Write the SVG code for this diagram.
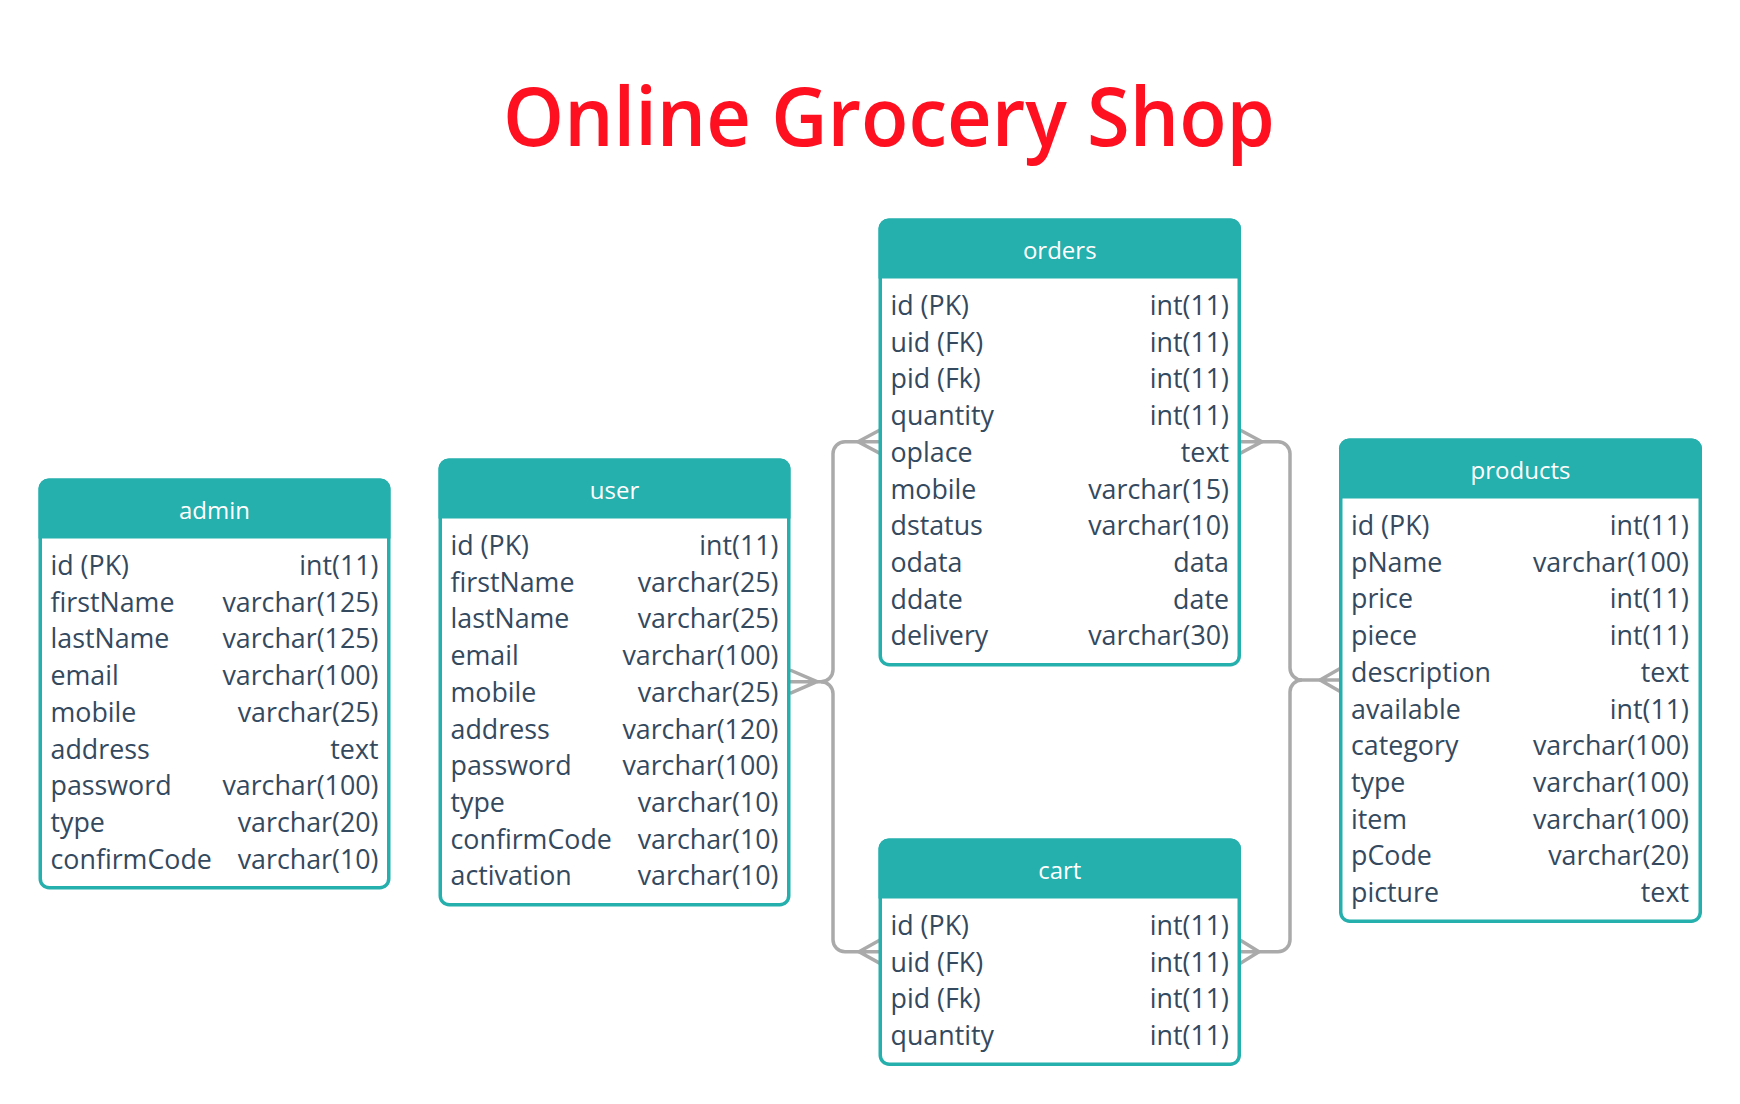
<svg xmlns="http://www.w3.org/2000/svg" width="1740" height="1104" viewBox="0 0 1740 1104">
<style>
.title{font-family:"Open Sans","Liberation Sans",sans-serif;font-size:82px;font-weight:600;fill:#ff1020}
.box{fill:#ffffff;stroke:#25afad;stroke-width:3.5}
.hdr{fill:#25afad}
.hd{font-family:"Open Sans","Liberation Sans",sans-serif;font-size:24px;fill:#ffffff;text-anchor:middle}
.f{font-family:"Open Sans","Liberation Sans",sans-serif;font-size:26.8px;fill:#34495e}
.t{font-family:"Open Sans","Liberation Sans",sans-serif;font-size:26.8px;fill:#34495e;text-anchor:end}
.c{fill:none;stroke:#aaaaaa;stroke-width:3.5;stroke-linejoin:round}
</style>
<rect x="0" y="0" width="1740" height="1104" fill="#ffffff"/>
<text class="title" x="503" y="146" textLength="772" lengthAdjust="spacingAndGlyphs">Online Grocery Shop</text>

<g id="connectors">
<path class="c" d="M817 681.7 H821 A12 12 0 0 0 833 669.7 V453.7 A12 12 0 0 1 845 441.7 H858"/>
<path class="c" d="M821 681.7 A12 12 0 0 1 833 693.7 V939.7 A12 12 0 0 0 845 951.7 H859"/>
<path class="c" d="M790 670 L817 681.7 L790 693.4 M790 681.7 H817"/>
<path class="c" d="M880 430 L858 441.7 L880 453.4 M880 441.7 H858"/>
<path class="c" d="M880 940 L859 951.7 L880 963.4 M880 951.7 H859"/>
<path class="c" d="M1262 441.7 H1278 A12 12 0 0 1 1290 453.7 V668 A12 12 0 0 0 1302 680 H1320"/>
<path class="c" d="M1302 680 A12 12 0 0 0 1290 692 V939.7 A12 12 0 0 1 1278 951.7 H1259"/>
<path class="c" d="M1240 430 L1262 441.7 L1240 453.4 M1240 441.7 H1262"/>
<path class="c" d="M1341 668 L1320 680 L1341 692 M1341 680 H1320"/>
<path class="c" d="M1240 940 L1259 951.7 L1240 963.4 M1240 951.7 H1259"/>
</g>

<g id="admin" transform="translate(38.5,478.5)">
<rect class="box" x="1.75" y="1.75" width="348.5" height="407.5" rx="9"/>
<path class="hdr" d="M0 60 V10 A10 10 0 0 1 10 0 H342 A10 10 0 0 1 352 10 V60 Z"/>
<text class="hd" x="176" y="40.5">admin</text>
<text class="f" x="12" y="96.5">id (PK)</text><text class="t" x="340" y="96.5">int(11)</text>
<text class="f" x="12" y="133.2">firstName</text><text class="t" x="340" y="133.2">varchar(125)</text>
<text class="f" x="12" y="169.9">lastName</text><text class="t" x="340" y="169.9">varchar(125)</text>
<text class="f" x="12" y="206.6">email</text><text class="t" x="340" y="206.6">varchar(100)</text>
<text class="f" x="12" y="243.3">mobile</text><text class="t" x="340" y="243.3">varchar(25)</text>
<text class="f" x="12" y="280">address</text><text class="t" x="340" y="280">text</text>
<text class="f" x="12" y="316.7">password</text><text class="t" x="340" y="316.7">varchar(100)</text>
<text class="f" x="12" y="353.4">type</text><text class="t" x="340" y="353.4">varchar(20)</text>
<text class="f" x="12" y="390.1">confirmCode</text><text class="t" x="340" y="390.1">varchar(10)</text>
</g>

<g id="user" transform="translate(438.5,458.5)">
<rect class="box" x="1.75" y="1.75" width="348.5" height="444.5" rx="9"/>
<path class="hdr" d="M0 60 V10 A10 10 0 0 1 10 0 H342 A10 10 0 0 1 352 10 V60 Z"/>
<text class="hd" x="176" y="40.5">user</text>
<text class="f" x="12" y="96.5">id (PK)</text><text class="t" x="340" y="96.5">int(11)</text>
<text class="f" x="12" y="133.2">firstName</text><text class="t" x="340" y="133.2">varchar(25)</text>
<text class="f" x="12" y="169.9">lastName</text><text class="t" x="340" y="169.9">varchar(25)</text>
<text class="f" x="12" y="206.6">email</text><text class="t" x="340" y="206.6">varchar(100)</text>
<text class="f" x="12" y="243.3">mobile</text><text class="t" x="340" y="243.3">varchar(25)</text>
<text class="f" x="12" y="280">address</text><text class="t" x="340" y="280">varchar(120)</text>
<text class="f" x="12" y="316.7">password</text><text class="t" x="340" y="316.7">varchar(100)</text>
<text class="f" x="12" y="353.4">type</text><text class="t" x="340" y="353.4">varchar(10)</text>
<text class="f" x="12" y="390.1">confirmCode</text><text class="t" x="340" y="390.1">varchar(10)</text>
<text class="f" x="12" y="426.8">activation</text><text class="t" x="340" y="426.8">varchar(10)</text>
</g>

<g id="orders" transform="translate(878.5,218.5)">
<rect class="box" x="1.75" y="1.75" width="359" height="444.5" rx="9"/>
<path class="hdr" d="M0 60 V10 A10 10 0 0 1 10 0 H352.5 A10 10 0 0 1 362.5 10 V60 Z"/>
<text class="hd" x="181.25" y="40.5">orders</text>
<text class="f" x="12" y="96.5">id (PK)</text><text class="t" x="350.5" y="96.5">int(11)</text>
<text class="f" x="12" y="133.2">uid (FK)</text><text class="t" x="350.5" y="133.2">int(11)</text>
<text class="f" x="12" y="169.9">pid (Fk)</text><text class="t" x="350.5" y="169.9">int(11)</text>
<text class="f" x="12" y="206.6">quantity</text><text class="t" x="350.5" y="206.6">int(11)</text>
<text class="f" x="12" y="243.3">oplace</text><text class="t" x="350.5" y="243.3">text</text>
<text class="f" x="12" y="280">mobile</text><text class="t" x="350.5" y="280">varchar(15)</text>
<text class="f" x="12" y="316.7">dstatus</text><text class="t" x="350.5" y="316.7">varchar(10)</text>
<text class="f" x="12" y="353.4">odata</text><text class="t" x="350.5" y="353.4">data</text>
<text class="f" x="12" y="390.1">ddate</text><text class="t" x="350.5" y="390.1">date</text>
<text class="f" x="12" y="426.8">delivery</text><text class="t" x="350.5" y="426.8">varchar(30)</text>
</g>

<g id="cart" transform="translate(878.5,838.5)">
<rect class="box" x="1.75" y="1.75" width="359" height="224" rx="9"/>
<path class="hdr" d="M0 60 V10 A10 10 0 0 1 10 0 H352.5 A10 10 0 0 1 362.5 10 V60 Z"/>
<text class="hd" x="181.25" y="40.5">cart</text>
<text class="f" x="12" y="96.5">id (PK)</text><text class="t" x="350.5" y="96.5">int(11)</text>
<text class="f" x="12" y="133.2">uid (FK)</text><text class="t" x="350.5" y="133.2">int(11)</text>
<text class="f" x="12" y="169.9">pid (Fk)</text><text class="t" x="350.5" y="169.9">int(11)</text>
<text class="f" x="12" y="206.6">quantity</text><text class="t" x="350.5" y="206.6">int(11)</text>
</g>

<g id="products" transform="translate(1339,438.5)">
<rect class="box" x="1.75" y="1.75" width="359.5" height="481" rx="9"/>
<path class="hdr" d="M0 60 V10 A10 10 0 0 1 10 0 H353 A10 10 0 0 1 363 10 V60 Z"/>
<text class="hd" x="181.5" y="40.5">products</text>
<text class="f" x="12" y="96.5">id (PK)</text><text class="t" x="350" y="96.5">int(11)</text>
<text class="f" x="12" y="133.2">pName</text><text class="t" x="350" y="133.2">varchar(100)</text>
<text class="f" x="12" y="169.9">price</text><text class="t" x="350" y="169.9">int(11)</text>
<text class="f" x="12" y="206.6">piece</text><text class="t" x="350" y="206.6">int(11)</text>
<text class="f" x="12" y="243.3">description</text><text class="t" x="350" y="243.3">text</text>
<text class="f" x="12" y="280">available</text><text class="t" x="350" y="280">int(11)</text>
<text class="f" x="12" y="316.7">category</text><text class="t" x="350" y="316.7">varchar(100)</text>
<text class="f" x="12" y="353.4">type</text><text class="t" x="350" y="353.4">varchar(100)</text>
<text class="f" x="12" y="390.1">item</text><text class="t" x="350" y="390.1">varchar(100)</text>
<text class="f" x="12" y="426.8">pCode</text><text class="t" x="350" y="426.8">varchar(20)</text>
<text class="f" x="12" y="463.5">picture</text><text class="t" x="350" y="463.5">text</text>
</g>
</svg>
